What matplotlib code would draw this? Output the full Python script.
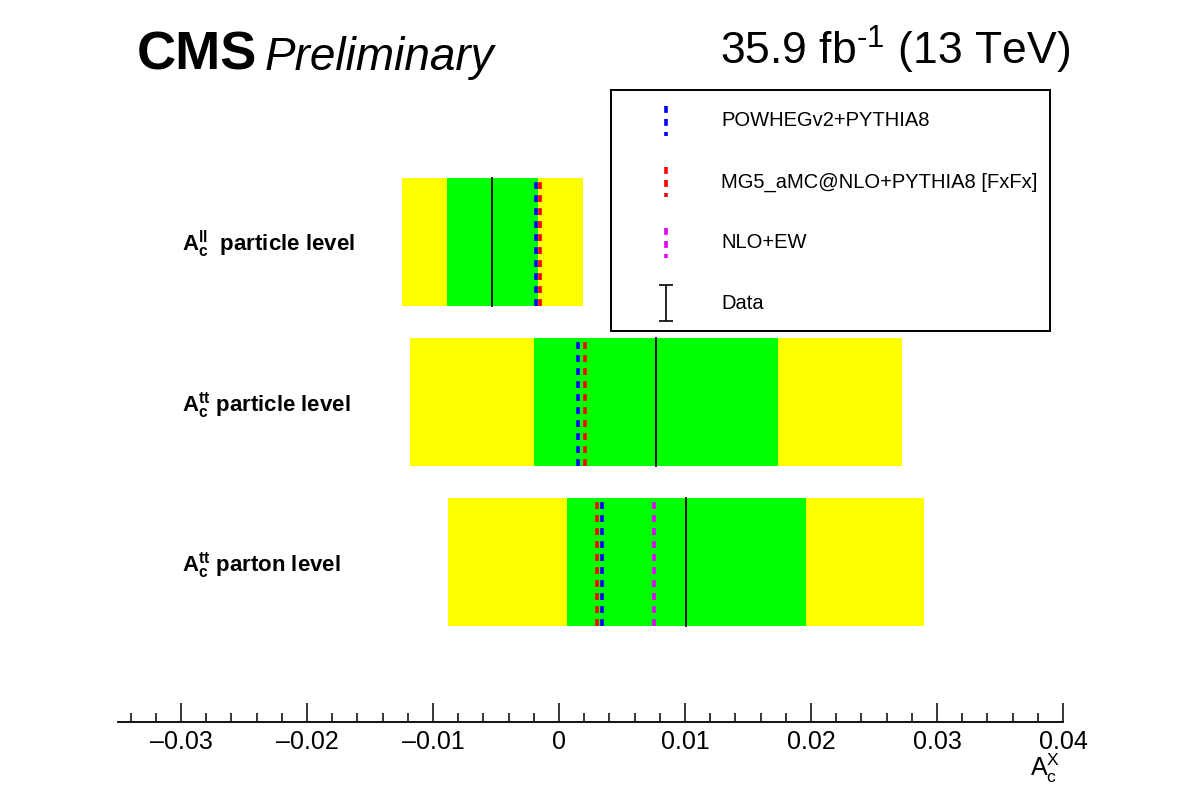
import matplotlib
matplotlib.use('Agg')
import matplotlib.pyplot as plt
from matplotlib.ticker import MultipleLocator, FixedLocator, FuncFormatter
from matplotlib.transforms import blended_transform_factory

plt.rcParams['font.family'] = ['Liberation Sans', 'DejaVu Sans']
plt.rcParams['mathtext.fontset'] = 'custom'
plt.rcParams['mathtext.rm'] = 'Liberation Sans'
plt.rcParams['mathtext.it'] = 'Liberation Sans:italic'
plt.rcParams['mathtext.bf'] = 'Liberation Sans:bold'

# measured values, top row first
labels = [r'$\mathbf{A}_{\mathbf{c}}^{\mathbf{ll}}$  particle level',
          r'$\mathbf{A}_{\mathbf{c}}^{\mathbf{tt}}$ particle level',
          r'$\mathbf{A}_{\mathbf{c}}^{\mathbf{tt}}$ parton level']
data = [-0.0053, 0.0077, 0.0101]
err_inner = [0.0036, 0.0097, 0.0095]   # green band
err_outer = [0.0072, 0.0195, 0.0189]   # yellow band

# predictions
powheg = [-0.0018, 0.0015, 0.0034]
mg5 = [-0.0015, 0.0021, 0.0030]
nloew = [None, None, 0.0075]

legend_labels = ['POWHEGv2+PYTHIA8', 'MG5_aMC@NLO+PYTHIA8 [FxFx]', 'NLO+EW', 'Data']
pred_colors = ['#0000FF', '#FF0000', '#E000FF']

W, H = 1182, 805
fig = plt.figure(figsize=(W / 100, H / 100), dpi=100)
ax = fig.add_axes([118 / W, 1 - 722 / H, 945 / W, 640 / H])

ypos = [3, 2, 1]
half = 0.4
dash = (0, (1.9, 1.7))

for i, y in enumerate(ypos):
    ax.barh(y, 2 * err_outer[i], left=data[i] - err_outer[i], height=2 * half,
            color='#FFFF00', linewidth=0)
    ax.barh(y, 2 * err_inner[i], left=data[i] - err_inner[i], height=2 * half,
            color='#00FF00', linewidth=0)
    ax.plot([data[i], data[i]], [y - half, y + half], color='black', lw=1.3)
    for vals, c in zip([powheg, mg5, nloew], pred_colors):
        if vals[i] is None:
            continue
        ax.plot([vals[i], vals[i]], [y - half, y + half], color=c, lw=2.6,
                linestyle=dash)

trans = blended_transform_factory(fig.transFigure, ax.transData)
for i, y in enumerate(ypos):
    ax.text(182 / W, y - 0.06, labels[i], transform=trans, fontsize=16,
            fontweight='bold', ha='left', va='baseline')

ax.set_xlim(-0.035, 0.04)
ax.set_ylim(0, 4)
for s in ['top', 'left', 'right']:
    ax.spines[s].set_visible(False)
ax.spines['bottom'].set_linewidth(1.3)
ax.set_yticks([])
ax.xaxis.set_major_locator(FixedLocator([-0.03, -0.02, -0.01, 0, 0.01, 0.02, 0.03, 0.04]))
ax.xaxis.set_minor_locator(MultipleLocator(0.002))


def fmt(v, pos):
    v = round(v, 4)
    if v == 0:
        return '0'
    s = f'{abs(v):g}'
    return ('\u2013' + s) if v < 0 else s


ax.xaxis.set_major_formatter(FuncFormatter(fmt))
ax.tick_params(axis='x', which='major', direction='in', length=13.5, width=1.1,
               labelsize=18, pad=6)
ax.tick_params(axis='x', which='minor', direction='in', length=6.5, width=1.1)

fig.text(1060 / W, 1 - 776 / H, r'$\mathrm{A}_{\mathrm{c}}^{\mathrm{X}}$',
         fontsize=18, ha='right', va='baseline')

# header
fig.text(137 / W, 1 - 70 / H, 'CMS', fontsize=39, fontweight='bold',
         ha='left', va='baseline')
fig.text(265 / W, 1 - 70 / H, 'Preliminary', fontsize=33, style='italic',
         ha='left', va='baseline')
fig.text(1070 / W, 1 - 65 / H, '35.9 fb$^{\u2010\\mathrm{1}}$ (13 TeV)', fontsize=32,
         ha='right', va='baseline')

# legend box
lx0, ly0, lx1, ly1 = 611, 90, 1050, 331
lax = fig.add_axes([lx0 / W, 1 - ly1 / H, (lx1 - lx0) / W, (ly1 - ly0) / H])
lax.set_xlim(0, lx1 - lx0)
lax.set_ylim(ly1 - ly0, 0)
lax.set_xticks([])
lax.set_yticks([])
for s in lax.spines.values():
    s.set_linewidth(1.4)

rows = [31, 92, 153, 213]
for k in range(3):
    lax.plot([55, 55], [rows[k] - 15, rows[k] + 15], color=pred_colors[k], lw=2.6,
             linestyle=dash)
lax.errorbar([55], [rows[3]], yerr=[18], color='black', lw=1.2, capsize=5,
             capthick=1.2, fmt='none')
for k, t in enumerate(legend_labels):
    lax.text(110, rows[k], t, fontsize=14.5, ha='left', va='center')

fig.savefig('out.png', dpi=100)
